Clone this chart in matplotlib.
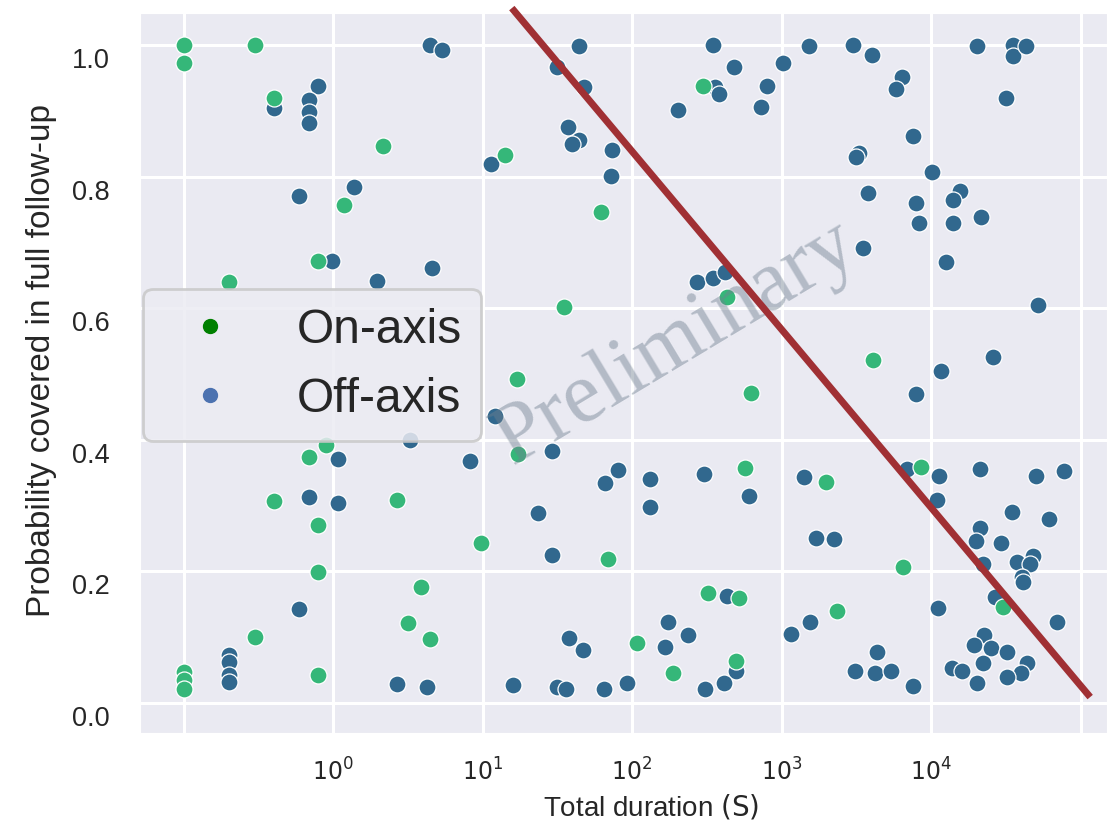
import matplotlib
matplotlib.use('Agg')
import matplotlib.pyplot as plt
import matplotlib.transforms as mtransforms
from matplotlib.lines import Line2D
import seaborn as sns

# total duration (s) and probability covered, on-axis events
on_dur = [0.1, 0.1, 0.3, 0.4, 2.16, 14.1, 1.19, 0.79, 0.2, 62.1,
          299, 432, 35.1, 4093, 625, 17.0, 17.3, 570, 1986, 8570,
          0.90, 0.69, 0.4, 2.68, 0.79, 9.77, 0.79, 69.2, 6501, 0.3,
          3.88, 3.16, 4.46, 0.1, 0.1, 0.1, 0.79, 322, 520, 2350,
          108, 188, 497, 30339]
on_prob = [1.0, 0.973, 1.0, 0.919, 0.846, 0.833, 0.757, 0.672, 0.640, 0.746,
           0.938, 0.617, 0.602, 0.521, 0.471, 0.492, 0.378, 0.357, 0.336, 0.359,
           0.392, 0.374, 0.307, 0.309, 0.271, 0.243, 0.199, 0.219, 0.207, 0.100,
           0.176, 0.122, 0.097, 0.047, 0.035, 0.021, 0.043, 0.167, 0.160, 0.140,
           0.091, 0.046, 0.064, 0.146]

# off-axis events
off_dur = [4.46, 5.36, 0.79, 0.4, 0.69, 0.69, 0.69, 11.4, 1.38, 0.59,
           0.98, 4.59, 1.97, 44.2, 31.5, 47.8, 37.3, 44.2, 39.7, 73.5,
           72.4, 348, 479, 359, 380, 203, 1023, 794, 729, 1528,
           3006, 4027, 3296, 3148, 3793, 3508, 272, 347, 417, 6397,
           5834, 7586, 10160, 15631, 14028, 7943, 8318, 14028, 21577, 12589,
           20324, 35318, 35318, 43152, 31623, 52000, 12.1, 3.27, 1.08, 8.24,
           0.69, 1.08, 29.2, 80.5, 66.1, 132, 132, 302, 607, 1413,
           23.5, 29.2, 1698, 2244, 26002, 11668, 7943, 6918, 11324, 21281,
           50350, 77625, 10965, 34834, 61660, 21281, 19953, 29376, 22284, 37584,
           48084, 45920, 40644, 41500, 0.59, 0.2, 0.2, 0.2, 0.2, 2.68,
           4.26, 16.0, 432, 174, 237, 166, 37.9, 47.0, 1549, 1159,
           497, 31.5, 36.2, 65.0, 92.7, 308, 412, 3090, 4217, 4355,
           26792, 11143, 69660, 22646, 19409, 25119, 32211, 43853, 22284, 13804,
           16106, 39994, 32211, 20324, 5395, 7586]
off_prob = [1.0, 0.992, 0.938, 0.904, 0.916, 0.898, 0.881, 0.819, 0.784, 0.770,
            0.672, 0.661, 0.641, 0.998, 0.967, 0.936, 0.875, 0.856, 0.850, 0.840,
            0.801, 1.0, 0.966, 0.936, 0.925, 0.901, 0.973, 0.938, 0.906, 0.998,
            1.0, 0.985, 0.836, 0.830, 0.775, 0.691, 0.640, 0.646, 0.655, 0.951,
            0.933, 0.862, 0.807, 0.778, 0.764, 0.760, 0.729, 0.729, 0.739, 0.670,
            0.998, 1.0, 0.983, 0.998, 0.919, 0.605, 0.436, 0.400, 0.371, 0.368,
            0.313, 0.304, 0.383, 0.354, 0.334, 0.340, 0.298, 0.348, 0.315, 0.343,
            0.289, 0.225, 0.251, 0.249, 0.526, 0.505, 0.470, 0.356, 0.345, 0.356,
            0.345, 0.353, 0.309, 0.290, 0.280, 0.266, 0.246, 0.243, 0.211, 0.214,
            0.223, 0.211, 0.191, 0.184, 0.143, 0.073, 0.062, 0.043, 0.032, 0.029,
            0.024, 0.027, 0.163, 0.123, 0.103, 0.085, 0.099, 0.081, 0.123, 0.105,
            0.049, 0.024, 0.021, 0.021, 0.030, 0.021, 0.030, 0.049, 0.046, 0.078,
            0.161, 0.144, 0.123, 0.103, 0.088, 0.084, 0.078, 0.061, 0.061, 0.053,
            0.049, 0.046, 0.040, 0.030, 0.049, 0.026]

# reference cut line
cut_dur = [15.7, 1.16e5]
cut_prob = [1.056, 0.009]

legend_labels = ['On-axis', 'Off-axis']
x_ticks = [0.1, 1, 10, 100, 1000, 1e4, 1e5]
x_ticklabels = ['', r'$10^{0}$', r'$10^{1}$', r'$10^{2}$', r'$10^{3}$', r'$10^{4}$', '']
y_ticks = [0.0, 0.2, 0.4, 0.6, 0.8, 1.0]

sns.set_style('darkgrid')
plt.rcParams['font.family'] = ['Liberation Sans', 'DejaVu Sans']
plt.rcParams['text.color'] = '#262626'
plt.rcParams['axes.labelcolor'] = '#262626'

fig = plt.figure(figsize=(11.07, 8.26), dpi=100)
ax = fig.add_axes([0.1265, 0.1126, 0.8735, 0.8717])
ax.grid(True, color='white', linewidth=2.2)

green, blue = '#35b779', '#31688e'
ax.scatter(off_dur, off_prob, s=150, color=blue, edgecolor='white', linewidth=0.9, zorder=3)
ax.scatter(on_dur, on_prob, s=150, color=green, edgecolor='white', linewidth=0.9, zorder=3)

ax.plot(cut_dur, cut_prob, color='#a03034', linewidth=5, zorder=5, clip_on=False,
        solid_capstyle='butt')

ax.text(0.555, 0.541, 'Preliminary', transform=ax.transAxes, rotation=31,
        fontsize=62, family='Liberation Serif', color='slategray', alpha=0.45,
        ha='center', va='center', zorder=4)

ax.set_xscale('log')
ax.set_xlim(10 ** -1.291, 10 ** 5.177)
ax.set_ylim(-0.0456, 1.0486)
ax.set_xticks(x_ticks)
ax.set_xticklabels(x_ticklabels, fontsize=17)
ax.xaxis.set_minor_locator(matplotlib.ticker.NullLocator())
ax.set_yticks(y_ticks)
ax.set_yticklabels(['%.1f' % v for v in y_ticks], fontsize=19.5)
ax.tick_params(axis='x', length=0, pad=18, colors='#262626')
ax.tick_params(axis='y', length=0, pad=22, colors='#262626')
shift = mtransforms.ScaledTranslation(0, -0.13, fig.dpi_scale_trans)
for lbl in ax.get_yticklabels():
    lbl.set_transform(lbl.get_transform() + shift)

ax.set_xlabel('Total duration $(\\mathrm{S})$', fontsize=20)
ax.set_ylabel('Probability covered in full follow-up', fontsize=24)
ax.xaxis.set_label_coords(0.529, -0.083)
ax.yaxis.set_label_coords(-0.086, 0.518)

handles = [Line2D([], [], marker='o', linestyle='', color='green', markersize=10),
           Line2D([], [], marker='o', linestyle='', color='#4c72b0', markersize=10)]
leg = ax.legend(handles, legend_labels, loc='upper left', bbox_to_anchor=(0.003, 0.617),
                borderaxespad=0, fontsize=34.5, frameon=True, fancybox=True)
leg.get_frame().set_edgecolor('#c8c8c8')
leg.get_frame().set_linewidth(2)
leg.get_frame().set_facecolor('#ececf3')
leg.get_frame().set_alpha(0.85)
leg.set_zorder(6)

fig.savefig('out.png', dpi=100)
